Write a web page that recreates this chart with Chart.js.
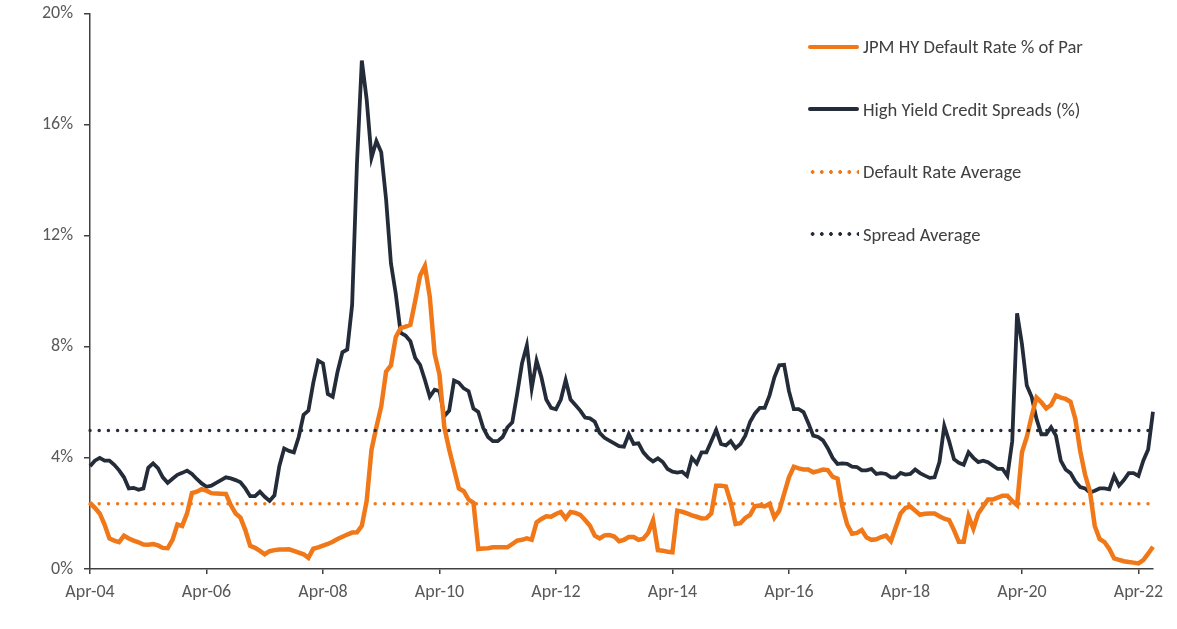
<!DOCTYPE html>
<html>
<head>
<meta charset="utf-8">
<script src="https://cdn.jsdelivr.net/npm/chart.js@4"></script>
<style>
  body { margin: 0; background: #fff; }
  #wrap { position: relative; width: 1177px; height: 629px; }
  #legend { position: absolute; left: 808px; top: 0; font-family: Carlito, Lato, sans-serif; font-size: 18.6px; color: #404040; }
  .row { position: absolute; left: 0; height: 20px; display: flex; align-items: center; white-space: nowrap; }
  .swatch { width: 51px; height: 4px; margin-right: 4px; }
</style>
</head>
<body>
<div id="wrap">
  <canvas id="myChart" width="1177" height="629"></canvas>
  <div id="legend"></div>
</div>
<script>
// Monthly data, Apr-04 .. Jul-22 (values in %)
const defaultRate = [
  2.38, 2.2, 2.0, 1.6, 1.1, 1.02, 0.97, 1.2, 1.1, 1.02,
  0.96, 0.88, 0.87, 0.9, 0.85, 0.76, 0.75, 1.05, 1.6, 1.55,
  2.0, 2.73, 2.78, 2.87, 2.82, 2.73, 2.72, 2.71, 2.7, 2.3,
  2.0, 1.85, 1.4, 0.83, 0.76, 0.65, 0.53, 0.64, 0.68, 0.7,
  0.7, 0.71, 0.65, 0.59, 0.53, 0.4, 0.73, 0.78, 0.84, 0.9,
  0.98, 1.08, 1.16, 1.24, 1.31, 1.32, 1.55, 2.45, 4.3, 5.1,
  5.85, 7.1, 7.33, 8.35, 8.67, 8.72, 8.79, 9.65, 10.55, 10.9,
  9.8, 7.75, 7.0, 5.1, 4.3, 3.6, 2.9, 2.8, 2.5, 2.38,
  0.72, 0.74, 0.75, 0.78, 0.78, 0.78, 0.78, 0.9, 1.02, 1.05,
  1.1, 1.05, 1.68, 1.8, 1.9, 1.88, 1.98, 2.05, 1.82, 2.05,
  2.02, 1.95, 1.76, 1.56, 1.2, 1.1, 1.21, 1.22, 1.17, 1.0,
  1.05, 1.15, 1.15, 1.05, 1.09, 1.3, 1.75, 0.68, 0.66, 0.62,
  0.6, 2.1, 2.06, 2.0, 1.93, 1.88, 1.82, 1.83, 2.0, 3.0,
  3.0, 2.97, 2.4, 1.62, 1.65, 1.84, 1.95, 2.26, 2.28, 2.25,
  2.35, 1.85, 2.1, 2.7, 3.3, 3.68, 3.62, 3.58, 3.58, 3.48,
  3.52, 3.58, 3.56, 3.32, 3.25, 2.25, 1.6, 1.27, 1.3, 1.4,
  1.13, 1.05, 1.07, 1.15, 1.2, 1.0, 1.5, 2.0, 2.2, 2.25,
  2.1, 1.95, 1.99, 2.0, 2.0, 1.9, 1.81, 1.76, 1.4, 0.98,
  0.98, 1.9, 1.45, 2.0, 2.25, 2.5, 2.5, 2.57, 2.64, 2.64,
  2.45, 2.3, 4.2, 4.75, 5.5, 6.17, 6.0, 5.78, 5.9, 6.25,
  6.17, 6.12, 6.02, 5.4, 4.25, 3.4, 2.8, 1.55, 1.08, 0.97,
  0.72, 0.38, 0.33, 0.28, 0.25, 0.23, 0.2, 0.32, 0.55, 0.8
];
const hySpread = [
  3.7, 3.9, 4.0, 3.9, 3.9, 3.75, 3.55, 3.3, 2.9, 2.92,
  2.85, 2.9, 3.64, 3.8, 3.63, 3.3, 3.1, 3.25, 3.39, 3.46,
  3.54, 3.42, 3.24, 3.08, 2.96, 3.0, 3.1, 3.2, 3.3, 3.26,
  3.2, 3.12, 2.9, 2.62, 2.62, 2.78, 2.6, 2.45, 2.65, 3.7,
  4.34, 4.25, 4.2, 4.75, 5.55, 5.7, 6.7, 7.5, 7.4, 6.3,
  6.2, 7.1, 7.8, 7.9, 9.5, 14.6, 18.3, 16.9, 14.8, 15.4,
  15.0, 13.3, 11.0, 9.9, 8.5, 8.4, 8.2, 7.6, 7.35, 6.8,
  6.2, 6.45, 6.4, 5.5, 5.7, 6.78, 6.7, 6.5, 6.4, 5.77,
  5.65, 5.08, 4.75, 4.6, 4.6, 4.75, 5.1, 5.28, 6.3, 7.4,
  8.05, 6.5, 7.5, 6.9, 6.1, 5.8, 5.75, 6.1, 6.8, 6.1,
  5.9, 5.7, 5.45, 5.42, 5.3, 4.9, 4.72, 4.62, 4.52, 4.42,
  4.4, 4.85, 4.5, 4.52, 4.2, 4.0, 3.87, 3.98, 3.85, 3.6,
  3.5, 3.47, 3.5, 3.35, 4.0, 3.8, 4.2, 4.2, 4.6, 5.0,
  4.5, 4.45, 4.6, 4.35, 4.5, 4.8, 5.3, 5.6, 5.8, 5.8,
  6.25, 6.9, 7.33, 7.35, 6.4, 5.75, 5.75, 5.65, 5.25, 4.8,
  4.75, 4.63, 4.35, 4.0, 3.78, 3.8, 3.78, 3.68, 3.67, 3.55,
  3.55, 3.6, 3.42, 3.45, 3.42, 3.3, 3.3, 3.46, 3.4, 3.42,
  3.58, 3.45, 3.36, 3.28, 3.3, 3.85, 5.15, 4.6, 3.95, 3.82,
  3.75, 4.2, 4.0, 3.85, 3.9, 3.84, 3.72, 3.6, 3.6, 3.35,
  4.6, 9.2, 8.1, 6.6, 6.2, 5.4, 4.85, 4.85, 5.1, 4.8,
  3.9, 3.58, 3.45, 3.15, 2.95, 2.9, 2.75, 2.82, 2.9, 2.9,
  2.87, 3.35, 3.0, 3.2, 3.45, 3.45, 3.35, 3.9, 4.3, 5.66
];
const defaultAvg = 2.35;
const spreadAvg = 4.98;
const xTickLabels = ['Apr-04', 'Apr-06', 'Apr-08', 'Apr-10', 'Apr-12', 'Apr-14', 'Apr-16', 'Apr-18', 'Apr-20', 'Apr-22'];

// month labels Apr-04 onwards
const monthNames = ['Jan', 'Feb', 'Mar', 'Apr', 'May', 'Jun', 'Jul', 'Aug', 'Sep', 'Oct', 'Nov', 'Dec'];
const months = hySpread.map((_, i) => {
    const m = 3 + i;
    const yy = 4 + Math.floor(m / 12);
    return monthNames[m % 12] + '-' + String(yy).padStart(2, '0');
});

const orange = '#F07818';
const navy = '#252C39';
const axisColor = '#404040';
const tickFont = { family: 'Carlito, Lato, sans-serif', size: 18 };
const first = months[0], last = months[months.length - 1];

const tickColor = ctx => (ctx.tick && xTickLabels.includes(months[ctx.index])) ? axisColor : 'rgba(0,0,0,0)';

const chart = new Chart(document.getElementById('myChart').getContext('2d'), {
    type: 'line',
    data: {
        labels: months,
        datasets: [
            { label: 'JPM HY Default Rate % of Par', data: defaultRate, borderColor: orange, borderWidth: 4.5, pointRadius: 0, tension: 0, order: 1 },
            { label: 'High Yield Credit Spreads (%)', data: hySpread, borderColor: navy, borderWidth: 3.8, pointRadius: 0, tension: 0, order: 2 },
            { label: 'Default Rate Average', data: [{ x: first, y: defaultAvg }, { x: last, y: defaultAvg }],
              borderColor: orange, borderWidth: 3.5, borderDash: [0, 9.2], borderCapStyle: 'round', pointRadius: 0, order: 0 },
            { label: 'Spread Average', data: [{ x: first, y: spreadAvg }, { x: last, y: spreadAvg }],
              borderColor: navy, borderWidth: 3.5, borderDash: [0, 9.2], borderCapStyle: 'round', pointRadius: 0, order: 0 }
        ]
    },
    options: {
        responsive: false,
        animation: false,
        layout: { padding: { top: 0, right: 24, left: 0, bottom: 0 } },
        plugins: { legend: { display: false }, tooltip: { enabled: false } },
        scales: {
            x: {
                grid: { drawOnChartArea: false, tickLength: 5, color: tickColor, tickColor: tickColor, lineWidth: 1.5 },
                border: { color: axisColor, width: 1.5 },
                ticks: {
                    autoSkip: false, maxRotation: 0, minRotation: 0, padding: 8,
                    color: '#595959', font: tickFont,
                    callback: (v, i) => xTickLabels.includes(months[i]) ? months[i] : ''
                },
                afterFit: s => { s.height = 60; }
            },
            y: {
                min: 0, max: 20,
                grid: { drawOnChartArea: false, tickLength: 6, color: axisColor, lineWidth: 1.5 },
                border: { color: axisColor, width: 1.5 },
                ticks: { stepSize: 4, padding: 11, color: '#595959', font: { ...tickFont, lineHeight: 0.25 }, callback: v => v + '%' },
                afterFit: s => { s.width = 90; }
            }
        }
    }
});

// legend drawn as html, from the chart datasets
const rowY = [46.7, 109.3, 171.7, 234.3];
const legend = document.getElementById('legend');
chart.data.datasets.forEach((ds, i) => {
    const row = document.createElement('div');
    row.className = 'row';
    row.style.top = (rowY[i] - 10) + 'px';
    const sw = document.createElement('span');
    sw.className = 'swatch';
    if (ds.borderDash) {
        sw.style.background = 'radial-gradient(circle, ' + ds.borderColor + ' 1.6px, rgba(0,0,0,0) 2.1px) 0 0 / 9.2px 4px repeat-x';
    } else {
        sw.style.background = ds.borderColor;
        sw.style.borderRadius = '2px';
    }
    row.appendChild(sw);
    row.appendChild(document.createTextNode(ds.label));
    legend.appendChild(row);
});
</script>
</body>
</html>
